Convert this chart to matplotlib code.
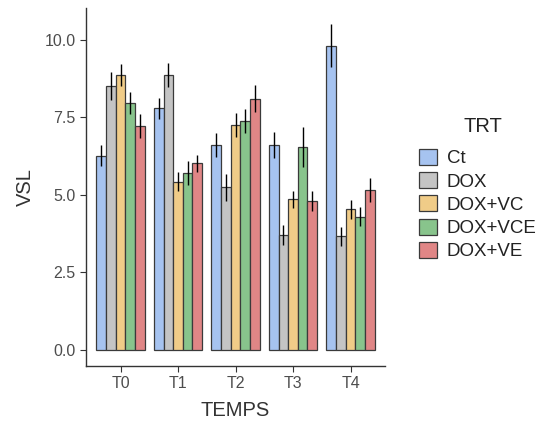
import matplotlib.pyplot as plt
from matplotlib.patches import Patch
import numpy as np

plt.rcParams['font.family'] = ['Liberation Sans', 'DejaVu Sans']

temps = ['T0', 'T1', 'T2', 'T3', 'T4']
trt = ['Ct', 'DOX', 'DOX+VC', 'DOX+VCE', 'DOX+VE']
colors = ['#a6c3f0', '#c4c4c4', '#f0cc88', '#88c48c', '#e08686']

# mean VSL per treatment (rows) and time (cols)
vsl = [
    [6.27, 7.79, 6.61, 6.61, 9.82],
    [8.52, 8.86, 5.25, 3.71, 3.66],
    [8.86, 5.43, 7.26, 4.86, 4.54],
    [7.96, 5.71, 7.39, 6.54, 4.30],
    [7.23, 6.02, 8.11, 4.81, 5.16],
]
err = [
    [0.34, 0.33, 0.38, 0.43, 0.70],
    [0.46, 0.39, 0.44, 0.33, 0.30],
    [0.35, 0.32, 0.38, 0.28, 0.31],
    [0.35, 0.39, 0.39, 0.65, 0.31],
    [0.39, 0.27, 0.42, 0.32, 0.39],
]

fig = plt.figure(figsize=(5.54, 4.30), dpi=100)
ax = fig.add_axes([86/554, 1-366/430, (385-86)/554, (366-8)/430])

x = np.arange(len(temps))
w = 0.84 / len(trt)
for i, name in enumerate(trt):
    pos = x - 0.42 + w * (i + 0.5)
    ax.bar(pos, vsl[i], width=w, color=colors[i], edgecolor='#3a3a3a',
           linewidth=0.9, zorder=2)
    ax.errorbar(pos, vsl[i], yerr=err[i], fmt='none', ecolor='black',
                elinewidth=1.0, capsize=0, zorder=3)

ax.set_xlim(-0.6, 4.6)
ax.set_ylim(-0.52, 11.03)
ax.set_xticks(x)
ax.set_xticklabels(temps)
ax.set_yticks([0, 2.5, 5, 7.5, 10])
ax.set_yticklabels(['0.0', '2.5', '5.0', '7.5', '10.0'])
for s in ['top', 'right']:
    ax.spines[s].set_visible(False)
for s in ['left', 'bottom']:
    ax.spines[s].set_color('#333333')
    ax.spines[s].set_linewidth(1.0)
ax.tick_params(colors='#333333', labelcolor='#4d4d4d', labelsize=11.5, length=4)
ax.set_xlabel('TEMPS', fontsize=14.5, color='#333333', labelpad=7)
ax.set_ylabel('VSL', fontsize=14.5, color='#333333', labelpad=7)

# legend title drawn separately to get the wider gap above the keys
fig.text(483/554, 1-127/430, 'TRT', fontsize=14.5, color='#222222',
         ha='center', va='center')
handles = [Patch(facecolor=c, edgecolor='#3a3a3a', linewidth=0.9) for c in colors]
leg = fig.legend(handles, trt, loc='upper left',
                 bbox_to_anchor=(402/554, 1-132/430), frameon=False,
                 fontsize=13.5, handlelength=0.95,
                 handleheight=0.95, handletextpad=0.55, labelspacing=0.25)
for t in leg.get_texts():
    t.set_color('#222222')

fig.savefig('out.png', dpi=100)
